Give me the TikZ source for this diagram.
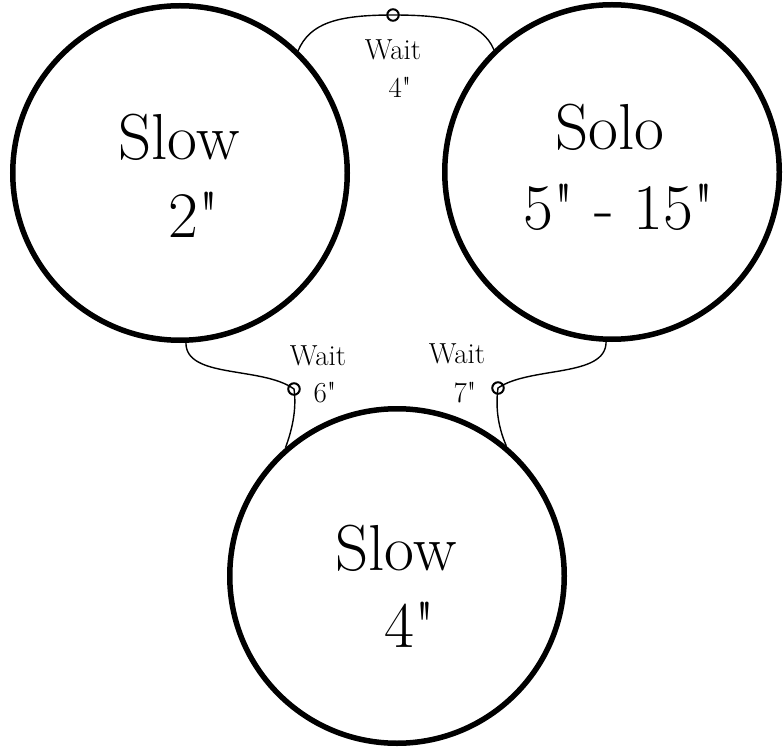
\documentclass[tikz,border=0pt]{standalone}
\tikzset{
  phase/.style={circle, draw, line width=5.5pt, minimum size=334.5pt, inner sep=0pt},
  bigtext/.style={anchor=base, inner sep=0pt, font=\fontsize{65}{78}\selectfont},
  smalltext/.style={anchor=base, inner sep=0pt, font=\fontsize{29}{35}\selectfont},
  knot/.style={circle, draw, line width=2pt, minimum size=11.5pt, inner sep=0pt},
  wire/.style={line width=1.4pt},
}
\newcommand{\secs}[1]{#1\textquotedbl}
\begin{document}
\begin{tikzpicture}[x=1pt,y=-1pt]
\useasboundingbox (0,0) rectangle (784,751);

% the three phases
\node[phase] (A) at (180,173) {};
\node[phase] (B) at (612,172) {};
\node[phase] (C) at (397,576) {};

\node[bigtext] (ta1) at (179,160) {Slow};
\node[bigtext] (ta2) at (194,238) {\secs{2}};
\node[bigtext] (tb1) at (610,150) {Solo};
\node[bigtext] (tb2) at (619,230) {\secs{5} - \secs{15}};
\node[bigtext] (tc1) at (396,570) {Slow};
\node[bigtext] (tc2) at (410,647) {\secs{4}};

% waiting points between phases
\node[knot] (m4) at (393,15) {};
\node[knot] (m6) at (294,389) {};
\node[knot] (m7) at (498,388) {};

\node[smalltext] (w4a) at (393,60) {Wait};
\node[smalltext] (w4b) at (400,98) {\secs{4}};
\node[smalltext] (w6a) at (318,365) {Wait};
\node[smalltext] (w6b) at (325,402) {\secs{6}};
\node[smalltext] (w7a) at (457,363) {Wait};
\node[smalltext] (w7b) at (465,402) {\secs{7}};

% connectors
\draw[wire] (A.46) .. controls +(12,-28) and +(-55,0) .. (m4.center)
            .. controls +(55,0) and +(-12,-28) .. (B.134);
\draw[wire] (A.-88) .. controls +(0,36) and +(-32,-23) .. (m6.center)
            .. controls +(3,21) and +(6,-16) .. (C.131);
\draw[wire] (B.-92) .. controls +(0,36) and +(32,-22) .. (m7.center)
            .. controls +(-3,22) and +(-7,-16) .. (C.50);
\end{tikzpicture}
\end{document}
